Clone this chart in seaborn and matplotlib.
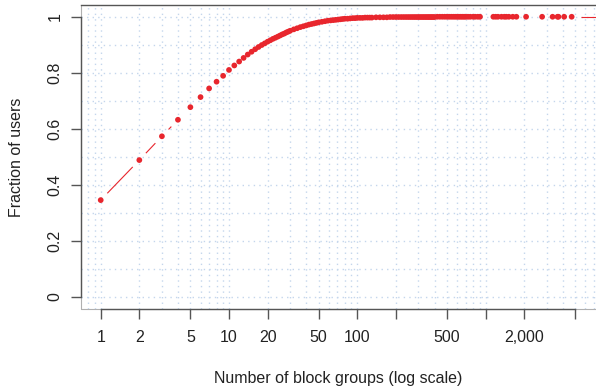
import numpy as np
import matplotlib
matplotlib.use("Agg")
import matplotlib.pyplot as plt
import seaborn as sns
from matplotlib.ticker import FixedLocator, LogLocator, MultipleLocator, NullFormatter

# block group counts (x) and cumulative fraction of users (y)
block_groups = [
    1, 2, 3, 4, 5, 6, 7, 8, 9, 10, 11, 12, 13, 14, 15, 16, 17, 18, 19, 20,
    21, 22, 23, 24, 25, 26, 27, 28, 29, 30, 32, 34, 36, 38, 40, 42, 44, 46, 48, 50,
    53, 56, 59, 62, 65, 68, 71, 74, 77, 80, 84, 88, 92, 96, 100, 105, 110, 115, 120, 125,
    130, 140, 150, 160, 170, 180, 190, 200, 210, 220, 230, 240, 250, 260, 270, 280, 290, 300,
    310, 320, 330, 340, 350, 360, 370, 380, 390, 400, 420, 440, 460, 480, 500, 520, 540, 560,
    580, 600, 620, 640, 660, 680, 700, 730, 760, 800, 830, 870, 905,
    1150, 1200, 1250, 1330, 1400, 1450, 1520, 1630, 1740, 2070, 2760, 3330, 3640, 3700,
    4100, 4690, 9500,
]
frac_users = [
    0.345, 0.488, 0.573, 0.632, 0.677, 0.713, 0.744, 0.768, 0.789, 0.810,
    0.826, 0.840, 0.853, 0.865, 0.875, 0.884, 0.892, 0.899, 0.905, 0.911,
    0.916, 0.921, 0.925, 0.929, 0.933, 0.937, 0.940, 0.944, 0.947, 0.950,
    0.955, 0.959, 0.963, 0.966, 0.969, 0.972, 0.974, 0.976, 0.978, 0.980,
    0.982, 0.984, 0.986, 0.987, 0.988, 0.989, 0.990, 0.991, 0.992, 0.993,
    0.993, 0.994, 0.995, 0.995, 0.996, 0.996, 0.996, 0.997, 0.997, 0.997,
    0.997, 0.998, 0.998, 0.998, 0.998, 0.999, 0.999, 0.999, 0.999, 0.999,
    0.999, 0.999, 0.999, 0.999, 0.999, 0.999, 0.999, 0.999,
    0.999, 0.999, 0.999, 0.999, 0.999, 0.999, 0.999, 0.999, 0.999, 0.999,
    1.0, 1.0, 1.0, 1.0, 1.0, 1.0, 1.0, 1.0,
    1.0, 1.0, 1.0, 1.0, 1.0, 1.0, 1.0, 1.0, 1.0, 1.0, 1.0, 1.0, 1.0,
    1.0, 1.0, 1.0, 1.0, 1.0, 1.0, 1.0, 1.0, 1.0, 1.0, 1.0, 1.0, 1.0, 1.0,
    1.0, 1.0, 1.0,
]

x_ticks = [1, 2, 5, 10, 20, 50, 100, 200, 500, 1000, 2000, 5000]
x_labels = ["1", "2", "5", "10", "20", "50", "100", "", "500", "", "2,000", ""]
y_ticks = [0, 0.2, 0.4, 0.6, 0.8, 1.0]
y_labels = ["0", "0.2", "0.4", "0.6", "0.8", "1"]

sns.set_style("white")
plt.rcParams["font.family"] = ["Liberation Sans", "DejaVu Sans"]

red = "#e8262d"
grid_col = "#c4d6ec"
dark = "#555555"
text_col = "#222222"

fig = plt.figure(figsize=(5.96, 3.91), dpi=100)
ax = fig.add_axes([81 / 596, (391 - 309) / 391, (596 - 81) / 596, (309 - 5) / 391])
ax.set_xscale("log")
ax.set_xlim(0.702, 7260)
ax.set_ylim(-0.044, 1.042)

# grid: every integer in each decade, every 0.1 on y
ax.xaxis.set_major_locator(FixedLocator(x_ticks))
ax.xaxis.set_minor_locator(LogLocator(base=10, subs=np.arange(1, 10), numticks=50))
ax.xaxis.set_minor_formatter(NullFormatter())
ax.yaxis.set_major_locator(FixedLocator(y_ticks))
ax.yaxis.set_minor_locator(MultipleLocator(0.1))
ax.grid(which="both", color=grid_col, linestyle=(0, (1, 3)), linewidth=1.0)
ax.set_axisbelow(True)

# R-style type="b": line segments with gaps around each point
xy = np.column_stack([block_groups, frac_users]).astype(float)
disp = ax.transData.transform(xy)
gap = 9.5
inv = ax.transData.inverted()
for p0, p1 in zip(disp[:-1], disp[1:]):
    d = np.hypot(*(p1 - p0))
    if d > 2 * gap:
        u = (p1 - p0) / d
        seg = inv.transform(np.array([p0 + u * gap, p1 - u * gap]))
        ax.plot(seg[:, 0], seg[:, 1], color=red, lw=0.8, solid_capstyle="butt")

sns.scatterplot(x=block_groups, y=frac_users, ax=ax, color=red, s=17,
                edgecolor="none", linewidth=0, zorder=3)

ax.set_xticks(x_ticks)
ax.set_xticklabels(x_labels)
ax.set_yticks(y_ticks)
ax.set_yticklabels(y_labels)
ax.tick_params(axis="both", which="major", bottom=True, left=True, length=7.2,
               width=1, color=dark, labelsize=11.5, labelcolor=text_col)
ax.tick_params(axis="x", which="major", pad=8)
ax.tick_params(axis="y", which="major", pad=6)
ax.tick_params(which="minor", length=0)
plt.setp(ax.get_yticklabels(), rotation=90, va="center")

# box: light frame, dark axis lines between the outer ticks
for side in ["left", "bottom", "top"]:
    ax.spines[side].set_color(dark)
    ax.spines[side].set_linewidth(1.0)
ax.spines["left"].set_bounds(0, 1)
ax.spines["bottom"].set_bounds(1, 5000)
ax.spines["right"].set_visible(False)
ax.plot([0, 0], [0, 1], transform=ax.transAxes, color="#b0b0b0", lw=0.8,
        clip_on=False, zorder=0)
ax.plot([0, 1], [0, 0], transform=ax.transAxes, color="#b0b0b0", lw=0.8,
        clip_on=False, zorder=0)

ax.set_xlabel("Number of block groups (log scale)", fontsize=11.5, color=text_col, va="top")
ax.xaxis.set_label_coords(0.499, -0.204)
ax.set_ylabel("Fraction of users", fontsize=11.5, color=text_col, va="center")
ax.yaxis.set_label_coords(-0.126, 0.5)

fig.savefig("out.png", dpi=100)
